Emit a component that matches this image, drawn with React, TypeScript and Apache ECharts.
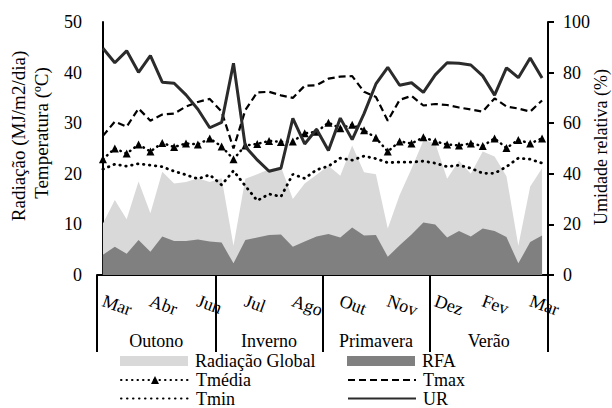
import { useEffect, useRef } from "react";
import * as echarts from "echarts";

const FONT = "Liberation Serif";

// 38 semi-monthly periods (Mar to Mar)
const periods = Array.from({ length: 38 }, (_, i) => `Q${i + 1}`);
const monthLabels = ["Mar", "Abr", "Jun", "Jul", "Ago", "Out", "Nov", "Dez", "Fev", "Mar"];
const seasons = ["Outono", "Inverno", "Primavera", "Verão"];
const seasonBounds = [-0.5, 9.5, 18.5, 27.5, 37.5];
const seasonCenters = [4.5, 14, 23, 32.5];

const radGlobal = [10.2, 14.8, 11.0, 18.5, 12.2, 20.4, 18.1, 18.4, 19.1, 18.4, 19.1, 5.8, 19.0, 19.9, 20.9, 21.4, 15.0, 18.1, 19.8, 21.6, 19.6, 25.6, 20.3, 19.9, 9.2, 15.8, 21.0, 26.6, 26.1, 19.0, 22.6, 20.0, 24.4, 23.4, 19.5, 5.8, 17.5, 21.1];
const rfa = [4.0, 5.6, 4.2, 6.9, 4.6, 7.6, 6.7, 6.7, 7.0, 6.6, 6.4, 2.3, 6.9, 7.4, 7.9, 8.0, 5.6, 6.6, 7.6, 8.1, 7.4, 9.4, 7.8, 7.9, 3.6, 5.9, 8.0, 10.4, 10.0, 7.4, 8.7, 7.6, 9.2, 8.7, 7.5, 2.3, 6.5, 7.8];
const tMedia = [22.9, 25.0, 24.0, 25.8, 24.4, 26.1, 25.3, 26.0, 25.8, 27.0, 25.4, 22.9, 25.6, 25.9, 26.5, 26.3, 26.4, 28.0, 28.3, 30.1, 29.0, 29.7, 28.6, 27.1, 24.4, 26.4, 26.0, 27.2, 26.4, 25.8, 25.6, 26.0, 25.5, 27.0, 25.1, 26.7, 26.0, 27.0];
const tMax = [27.5, 30.3, 29.3, 32.9, 30.5, 31.7, 31.9, 33.3, 34.2, 34.8, 32.3, 25.0, 32.6, 36.1, 36.2, 35.5, 35.0, 37.4, 37.5, 38.8, 39.2, 39.3, 36.2, 35.2, 30.5, 34.6, 35.4, 33.5, 33.8, 33.6, 33.1, 32.7, 32.3, 34.9, 33.3, 32.9, 32.3, 34.5];
const tMin = [20.9, 21.9, 21.5, 22.0, 21.7, 21.4, 20.5, 19.8, 19.0, 19.8, 17.8, 20.6, 17.6, 14.7, 16.0, 15.5, 19.9, 19.1, 20.8, 21.5, 23.1, 22.7, 23.5, 23.0, 22.2, 22.3, 22.3, 22.5, 22.1, 21.4, 21.7, 21.1, 20.1, 20.1, 21.4, 23.1, 22.9, 22.1];
const ur = [89.6, 83.9, 88.6, 80.1, 86.7, 76.2, 75.8, 71.2, 65.5, 58.2, 60.3, 83.7, 50.7, 45.5, 41.0, 42.2, 61.9, 51.8, 57.6, 49.2, 62.0, 53.5, 63.8, 75.5, 82.1, 75.0, 76.0, 72.2, 79.1, 83.9, 83.7, 83.0, 78.7, 71.1, 81.9, 78.0, 85.8, 77.9];

const leftTitle1 = "Radiação (MJ/m2/dia)";
const leftTitle2 = "Temperatura (ºC)";
const rightTitle = "Umidade relativa (%)";

// legend layout: [name, column, row]
const legendItems: [string, number, number][] = [
  ["Radiação Global", 0, 0],
  ["RFA", 1, 0],
  ["Tmédia", 0, 1],
  ["Tmax", 1, 1],
  ["Tmin", 0, 2],
  ["UR", 1, 2],
];

export default function App() {
  const ref = useRef<HTMLDivElement>(null);

  useEffect(() => {
    if (!ref.current) return;
    const chart = echarts.init(ref.current, undefined, { renderer: "svg" });
    const txt = { fontFamily: FONT, fontSize: 18, color: "#000" };
    const colLeft = [120, 347];
    const rowTop = [352, 371, 389.5];
    const legends = legendItems.map(([name, c, r]) => {
      const item: any = { name };
      if (name === "Radiação Global" || name === "RFA") item.icon = "rect";
      else if (name !== "Tmédia") item.itemStyle = { opacity: 0 };
      return {
        data: [item],
        orient: "horizontal",
        left: colLeft[c],
        top: rowTop[r],
        padding: 0,
        itemWidth: 68,
        itemHeight: 10,
        itemGap: 0,
        textStyle: { ...txt, padding: [0, 0, 0, 2] },
      };
    });
    const option: any = {
      animation: false,
      textStyle: { fontFamily: FONT },
      grid: { left: 97, right: 64, top: 22, bottom: 133 },
      xAxis: [
        {
          type: "category",
          data: periods,
          boundaryGap: true,
          position: "bottom",
          axisLine: { show: true, lineStyle: { color: "#000", width: 2 } },
          axisTick: { show: false },
          axisLabel: {
            ...txt,
            interval: 3,
            rotate: -20,
            margin: 25,
            formatter: (_v: string, i: number) => (i % 4 === 0 ? monthLabels[i / 4] ?? "" : ""),
          },
          splitLine: { show: false },
        },
        {
          type: "value",
          position: "bottom",
          min: -0.5,
          max: 37.5,
          axisLine: { show: false },
          axisTick: {
            show: true,
            customValues: seasonBounds,
            length: 77,
            inside: false,
            lineStyle: { color: "#000", width: 2 },
          },
          axisLabel: {
            ...txt,
            customValues: seasonCenters,
            margin: 57,
            formatter: (v: number) => seasons[seasonCenters.indexOf(v)] ?? "",
          },
          splitLine: { show: false },
        },
      ],
      yAxis: [
        {
          type: "value",
          position: "left",
          min: 0,
          max: 50,
          interval: 10,
          axisLine: { show: true, lineStyle: { color: "#000", width: 2 } },
          axisTick: { show: false },
          axisLabel: { ...txt, margin: 15 },
          splitLine: { show: false },
        },
        {
          type: "value",
          position: "right",
          min: 0,
          max: 100,
          interval: 20,
          axisLine: { show: true, lineStyle: { color: "#000", width: 2 } },
          axisTick: { show: true, length: 6, lineStyle: { color: "#000", width: 2 } },
          axisLabel: { ...txt, margin: 15 },
          splitLine: { show: false },
        },
      ],
      legend: legends,
      graphic: [
        {
          type: "text",
          x: 18,
          y: 136,
          rotation: Math.PI / 2,
          style: { text: leftTitle1, fontFamily: FONT, fontSize: 19, fill: "#000", align: "center", verticalAlign: "middle" },
        },
        {
          type: "text",
          x: 41,
          y: 133,
          rotation: Math.PI / 2,
          style: { text: leftTitle2, fontFamily: FONT, fontSize: 19, fill: "#000", align: "center", verticalAlign: "middle" },
        },
        {
          type: "text",
          x: 601,
          y: 147,
          rotation: Math.PI / 2,
          style: { text: rightTitle, fontFamily: FONT, fontSize: 18, fill: "#000", align: "center", verticalAlign: "middle" },
        },
      ],
      series: [
        {
          name: "Radiação Global",
          type: "line",
          data: radGlobal,
          symbol: "none",
          color: "#d9d9d9",
          lineStyle: { width: 0 },
          areaStyle: { color: "#d9d9d9", opacity: 1 },
          z: 1,
        },
        {
          name: "RFA",
          type: "line",
          data: rfa,
          symbol: "none",
          color: "#808080",
          lineStyle: { width: 0 },
          areaStyle: { color: "#808080", opacity: 1 },
          z: 2,
        },
        {
          name: "Tmédia",
          type: "line",
          data: tMedia,
          symbol: "triangle",
          symbolSize: 8,
          showSymbol: true,
          showAllSymbol: true,
          color: "#000",
          lineStyle: { color: "#000", width: 2.5, type: [0.5, 5], cap: "round" },
          z: 3,
        },
        {
          name: "Tmax",
          type: "line",
          data: tMax,
          symbol: "none",
          color: "#000",
          lineStyle: { color: "#000", width: 2.2, type: [7, 4] },
          z: 3,
        },
        {
          name: "Tmin",
          type: "line",
          data: tMin,
          symbol: "none",
          color: "#000",
          lineStyle: { color: "#000", width: 2.8, type: [0.5, 5.5], cap: "round" },
          z: 3,
        },
        {
          name: "UR",
          type: "line",
          yAxisIndex: 1,
          data: ur,
          symbol: "none",
          color: "#2b2b2b",
          lineStyle: { color: "#2b2b2b", width: 3 },
          z: 4,
        },
      ],
    };
    chart.setOption(option);
    return () => chart.dispose();
  }, []);

  return <div ref={ref} style={{ width: 612, height: 408, position: "absolute", left: 0, top: 0 }} />;
}
